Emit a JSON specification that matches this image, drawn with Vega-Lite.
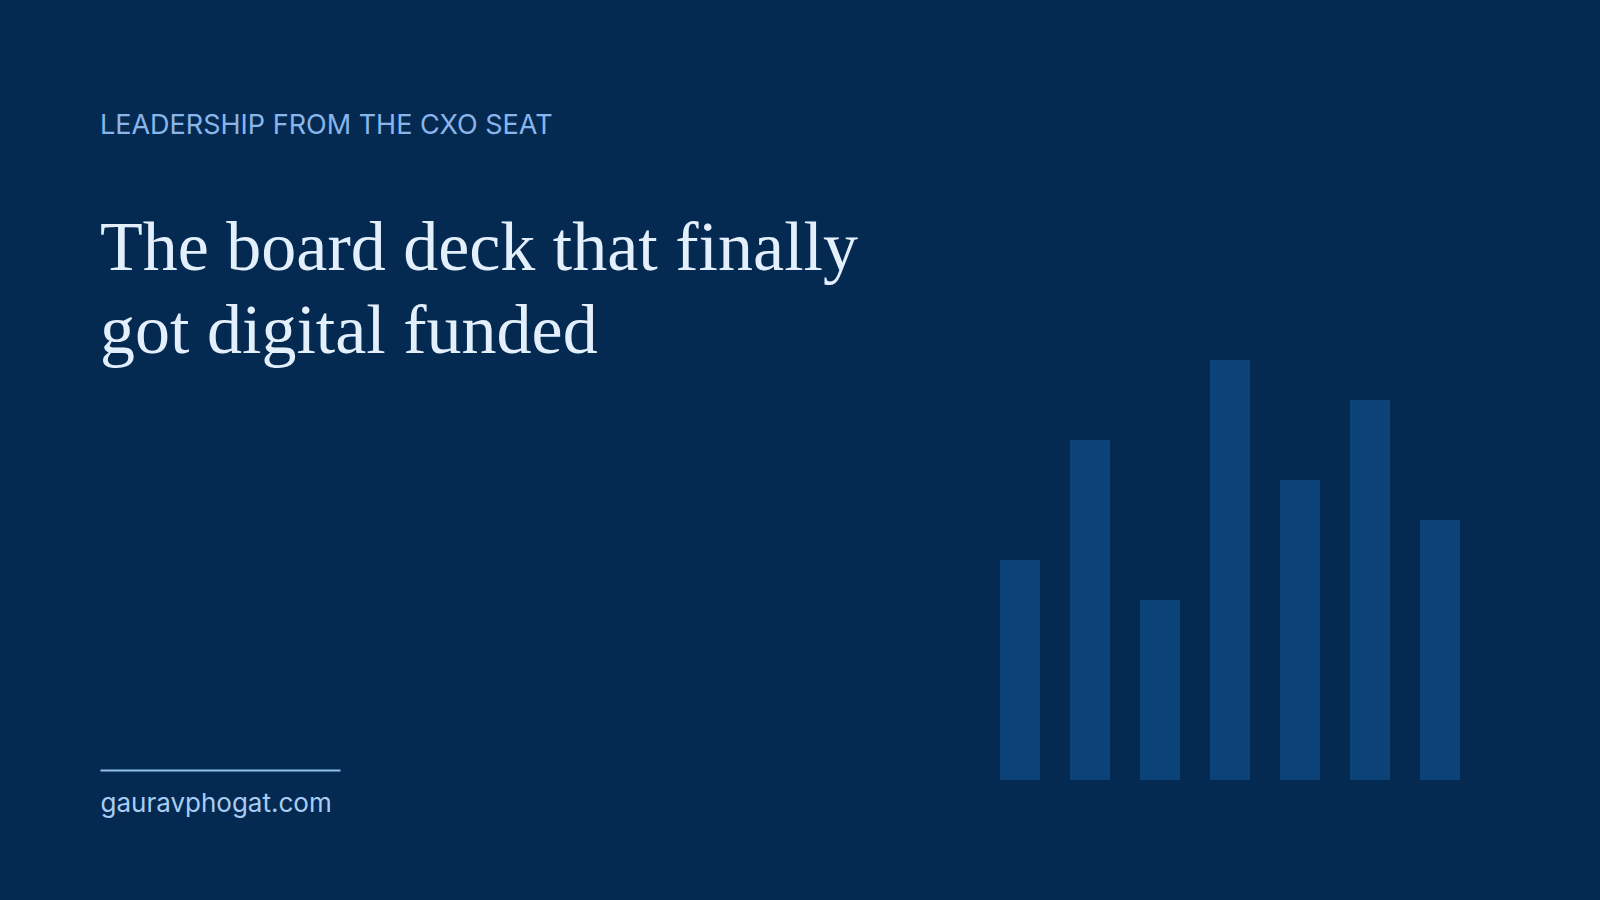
{
  "$schema": "https://vega.github.io/schema/vega-lite/v6.json",
  "autosize": {"type": "none"},
  "width": 1500,
  "height": 420,
  "padding": {"left": 100, "top": 360, "right": 0, "bottom": 120},
  "background": "#052a52",
  "title": {
    "text": "LEADERSHIP FROM THE CXO SEAT",
    "subtitle": ["The board deck that finally", "got digital funded"],
    "anchor": "start",
    "frame": "group",
    "font": "Inter",
    "fontSize": 27,
    "fontWeight": "normal",
    "color": "#89b6ea",
    "subtitleFont": "Liberation Serif",
    "subtitleFontSize": 70,
    "subtitleFontWeight": "normal",
    "subtitleColor": "#e4effc",
    "subtitleLineHeight": 83,
    "subtitlePadding": 75,
    "offset": -8
  },
  "data": {
    "values": [
      {"slot": "1", "value": 55},
      {"slot": "2", "value": 85},
      {"slot": "3", "value": 45},
      {"slot": "4", "value": 105},
      {"slot": "5", "value": 75},
      {"slot": "6", "value": 95},
      {"slot": "7", "value": 65}
    ]
  },
  "mark": {"type": "bar", "color": "#0b4379"},
  "encoding": {
    "x": {
      "field": "slot",
      "type": "nominal",
      "sort": null,
      "scale": {"type": "band", "range": [900, 1360], "paddingInner": 0.428571, "paddingOuter": 0},
      "axis": {
        "title": "gauravphogat.com",
        "titleFont": "Inter",
        "titleFontSize": 26,
        "titleFontWeight": "normal",
        "titleColor": "#a8cdf2",
        "titleX": 0,
        "titleY": 31,
        "titleAlign": "left",
        "titleBaseline": "alphabetic",
        "domain": false,
        "ticks": false,
        "labels": false,
        "grid": false
      }
    },
    "y": {
      "field": "value",
      "type": "quantitative",
      "scale": {"domain": [0, 105], "nice": false, "zero": true},
      "axis": {
        "orient": "left",
        "values": [2.5],
        "tickSize": -240,
        "tickWidth": 2,
        "tickColor": "#8fc0ea",
        "tickOpacity": 1,
        "ticks": true,
        "domain": false,
        "labels": false,
        "grid": false,
        "title": null,
        "offset": 0
      }
    }
  },
  "config": {"view": {"stroke": null}}
}
